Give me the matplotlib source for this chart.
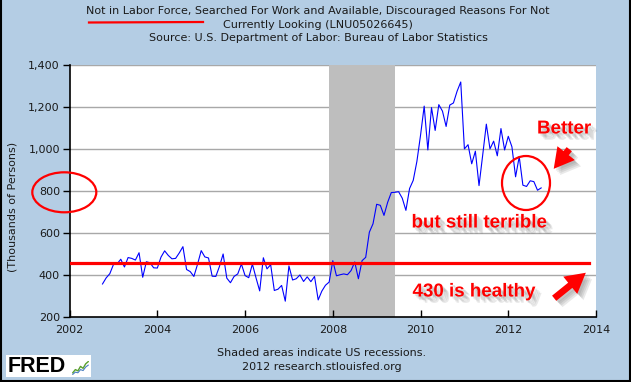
import matplotlib.pyplot as plt
import matplotlib.patheffects as pe
from matplotlib.patches import Ellipse, Rectangle, FancyArrowPatch
from matplotlib.lines import Line2D
from matplotlib.ticker import FuncFormatter
import numpy as np

# Discouraged workers, thousands of persons, monthly Oct 2002 - Oct 2012
v2002 = [356, 385, 405]
v2003 = [449, 452, 474, 437, 482, 478, 470, 505, 388, 462, 457, 433]
v2004 = [432, 484, 514, 492, 476, 478, 504, 534, 425, 415, 392, 450]
v2005 = [515, 485, 480, 393, 392, 440, 499, 384, 362, 392, 404, 451]
v2006 = [396, 386, 451, 385, 323, 481, 428, 448, 325, 331, 349, 274]
v2007 = [442, 375, 381, 399, 368, 390, 367, 392, 280, 322, 350, 365]
v2008 = [467, 395, 400, 404, 400, 420, 461, 381, 467, 483, 603, 643]
v2009 = [736, 731, 683, 745, 792, 793, 796, 765, 707, 811, 850, 940]
v2010 = [1065, 1204, 995, 1197, 1088, 1211, 1180, 1107, 1209, 1219, 1275, 1319]
v2011 = [1000, 1020, 929, 989, 825, 970, 1118, 1000, 1037, 967, 1097, 995]
v2012 = [1060, 1010, 867, 963, 827, 821, 848, 844, 803, 814]
values = v2002 + v2003 + v2004 + v2005 + v2006 + v2007 + v2008 + v2009 + v2010 + v2011 + v2012
first_month = 2002 + 9 / 12
dates = first_month + np.arange(len(values)) / 12

recession = (2007 + 11 / 12, 2009 + 5 / 12)
healthy_level = 455
healthy_end = 2013.85

x_ticks = [2002, 2004, 2006, 2008, 2010, 2012, 2014]
y_ticks = [200, 400, 600, 800, 1000, 1200, 1400]

title_lines = ["Not in Labor Force, Searched For Work and Available, Discouraged Reasons For Not",
               "Currently Looking (LNU05026645)",
               "Source: U.S. Department of Labor: Bureau of Labor Statistics"]

W, H = 631, 382
BG = '#B4CDE4'
TXT = '#1a1a1a'


def px(x, y):
    # pixel position (from top-left) -> figure fraction
    return x / W, 1 - y / H


fig = plt.figure(figsize=(W / 100, H / 100), dpi=100, facecolor=BG)
ax = fig.add_axes([69.6 / W, 1 - 316.7 / H, (596 - 69.6) / W, (316.7 - 65) / H])
ax.set_facecolor('white')

ax.axvspan(recession[0], recession[1], color='#BEBEBE', lw=0, zorder=1)
for yv in y_ticks[1:]:
    ax.axhline(yv, color='#A8A8A8', lw=1, zorder=0.5)
ax.plot(dates, values, color='#0000FF', lw=0.8, zorder=3)
ax.plot([2002, healthy_end], [healthy_level, healthy_level], color='#FF0000', lw=2.3, zorder=4)

ax.set_xlim(2002, 2014)
ax.set_ylim(200, 1400)
ax.set_xticks(x_ticks)
ax.set_yticks(y_ticks)
ax.yaxis.set_major_formatter(FuncFormatter(lambda v, p: f"{int(v):,}"))
ax.tick_params(axis='x', direction='in', length=5, width=1, pad=6, labelsize=8, labelcolor=TXT)
ax.tick_params(axis='y', direction='out', length=5, width=1, pad=2, labelsize=8, labelcolor=TXT)
for s in ['top', 'right']:
    ax.spines[s].set_visible(False)
for s in ['left', 'bottom']:
    ax.spines[s].set_linewidth(1.2)

fig.text(*px(13, 207), "(Thousands of Persons)", rotation=90, ha='center', va='center',
         fontsize=8, color=TXT)

for i, line in enumerate(title_lines):
    fig.text(*px(318, 11 + 13.5 * i), line, ha='center', va='center', fontsize=8, color=TXT)
fig.add_artist(Line2D([89 / W, 203 / W], [1 - 22.5 / H, 1 - 22 / H], color='#FF0000', lw=1.6,
                      transform=fig.transFigure))

fig.text(*px(322, 353), "Shaded areas indicate US recessions.", ha='center', va='center',
         fontsize=8, color=TXT)
fig.text(*px(322, 367), "2012 research.stlouisfed.org", ha='center', va='center',
         fontsize=8, color=TXT)

# FRED logo
fig.add_artist(Rectangle(px(6, 377), 85 / W, 22 / H, transform=fig.transFigure,
                         facecolor='white', edgecolor='none', zorder=-1))
fig.text(*px(8, 366), "FRED", ha='left', va='center', fontsize=15.5, fontweight='bold',
         family='Liberation Sans', color='black')
icon = fig.add_axes([72 / W, 1 - 375 / H, 17 / W, 14 / H], zorder=2)
icon_green = [1, 2, 1.6, 3, 2.4, 3.8, 4.5]
icon_blue = [0.5, 1.2, 1.0, 2.0, 1.7, 2.8, 3.4]
icon.plot(icon_green, color='#5aa02c', lw=1)
icon.plot(icon_blue, color='#4a7fc0', lw=0.8)
icon.set_xticks([])
icon.set_yticks([])
for s in icon.spines.values():
    s.set_visible(False)
icon.set_facecolor('white')

# border
for xs, ys in [([1 / W, 1 / W], [0, 1]), ([1 - 1.5 / W, 1 - 1.5 / W], [0, 1]),
               ([0, 1], [1.5 / H, 1.5 / H])]:
    fig.add_artist(Line2D(xs, ys, color='black', lw=1.5, transform=fig.transFigure))

# annotations, soft grey drop shadow
shadow = [pe.SimplePatchShadow(offset=(d, -d), shadow_rgbFace='0.35', alpha=0.13)
          for d in (1.5, 2.5, 3.5, 4.5)] + [pe.Normal()]
fig.add_artist(Ellipse(px(64.3, 192.3), 64 / W, 40 / H, transform=fig.transFigure,
                       fill=False, edgecolor='#FF0000', lw=1.6))
fig.add_artist(Ellipse(px(526, 183), 48 / W, 54 / H, transform=fig.transFigure,
                       fill=False, edgecolor='#FF0000', lw=1.6))

notes = [("Better", 537, 129), ("but still terrible", 411.5, 223), ("430 is healthy", 412.5, 292)]
for label, x, y in notes:
    fig.text(*px(x, y), label, ha='left', va='center', fontsize=13.5, fontweight='bold',
             family='Liberation Sans', color='#FF0000', path_effects=shadow)

for tail, head in [((571, 147), (552, 171)), ((552, 300), (588, 271))]:
    arr = FancyArrowPatch(px(*tail), px(*head), transform=fig.transFigure,
                          arrowstyle='simple,head_length=0.9,head_width=1.0,tail_width=0.3',
                          mutation_scale=16, color='#FF0000', lw=0, path_effects=shadow)
    fig.add_artist(arr)

fig.savefig('out.png', dpi=100, facecolor=BG)
